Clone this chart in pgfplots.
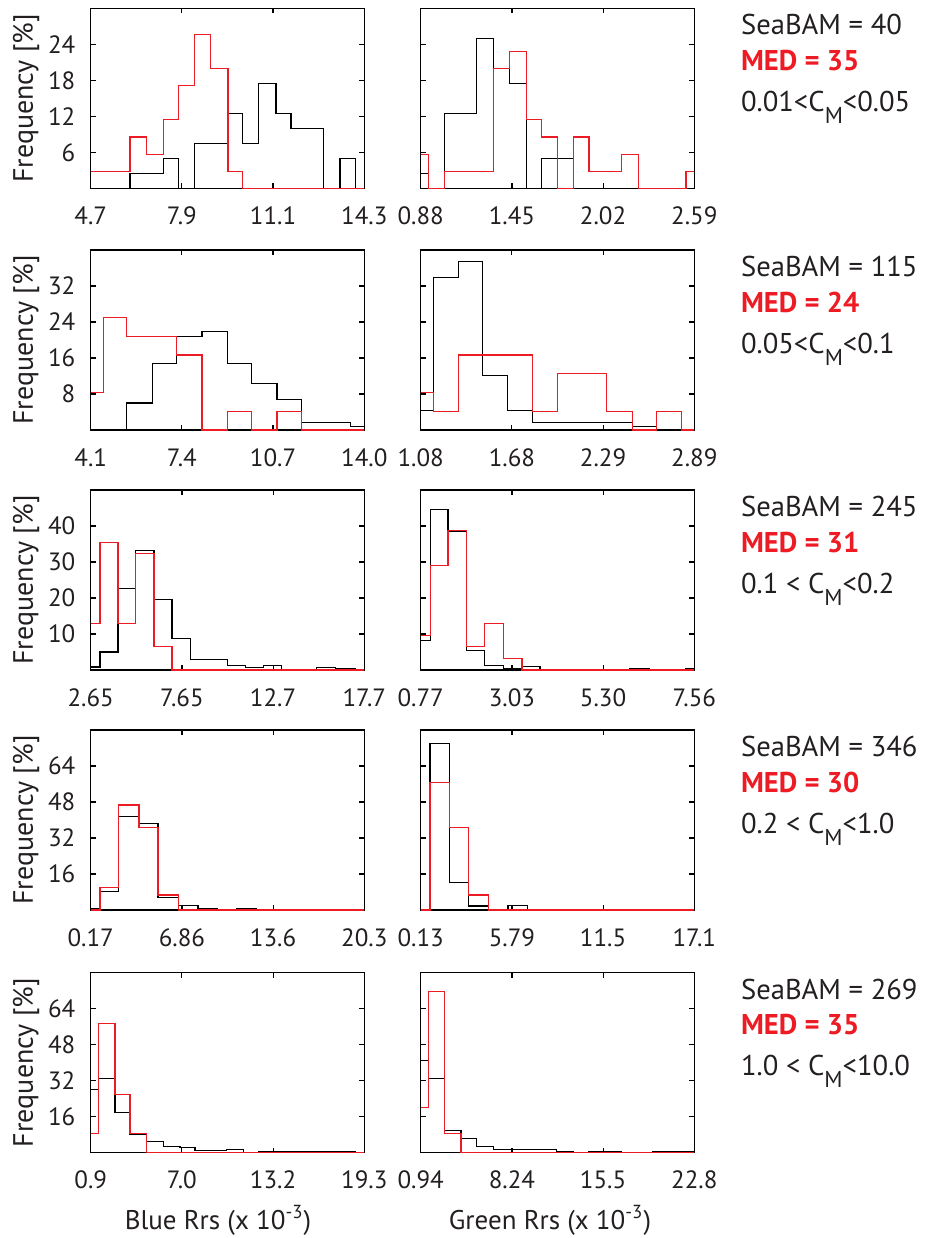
\documentclass[border=0pt]{standalone}
\usepackage{pgfplots}
\pgfplotsset{compat=1.18}
\usepackage{fontspec}
\setmainfont{PT Sans}
\definecolor{myred}{RGB}{237,28,36}
\definecolor{txt}{RGB}{35,31,32}
\newcommand\tf{\fontsize{12.5}{15}\selectfont}
\newcommand\lf{\fontsize{13.5}{16}\selectfont}
\newcommand\rf{\fontsize{14.3}{17}\selectfont}
\newcommand\CM{C\raisebox{-6pt}{\fontsize{11.5}{11.5}\selectfont M}}
\pgfplotsset{
 hist/.style={scale only axis, width=136.8pt, height=90pt, anchor=north west, ymin=0, clip=false,
  axis line style={line width=0.7pt, black}, tick align=inside, xtick pos=both, ytick pos=both,
  major tick length=2.5pt, every tick/.style={black, line width=0.6pt},
  ticklabel style={font=\tf, text=txt}, xticklabel style={yshift=-5.8pt}, yticklabel style={xshift=-4.15pt},
  /pgf/number format/assume math mode=true},
 noy/.style={yticklabels={}},
 blk/.style={const plot, black, line width=0.55pt, mark=none},
 rd/.style={const plot, myred, line width=0.55pt, mark=none},
 r1/.style={ymax=30, ytick={6,12,18,24}},
 r2/.style={ymax=40, ytick={8,16,24,32}},
 r3/.style={ymax=50, ytick={10,20,30,40}},
 r4/.style={ymax=80, ytick={16,32,48,64}},
}
\begin{document}
\begin{tikzpicture}
\path[use as bounding box] (0,0) rectangle (463.5pt,619pt);
% ---------------- Row 1
\begin{axis}[hist, r1, at={(45.35pt,614.8pt)}, xmin=4.7, xmax=14.3, xtick={4.7,7.9,11.1,14.3}, xticklabels={4.7,7.9,11.1,14.3}]
\addplot[blk] coordinates {(4.7,0) (6.08,2.5) (7.249,5) (7.775,0) (8.337,7.5) (9.517,12.5) (10.032,7.5) (10.582,17.5) (11.201,12.5) (11.728,10) (12.862,0) (13.447,5) (13.984,0) (14.3,0)};
\addplot[rd] coordinates {(4.7,2.86) (6.08,8.57) (6.664,5.71) (7.249,11.43) (7.775,17.14) (8.337,25.71) (8.909,20) (9.517,2.86) (10.032,0) (14.3,0)};
\end{axis}
\begin{axis}[hist, r1, noy, at={(210.35pt,614.8pt)}, xmin=0.88, xmax=2.59, xtick={0.88,1.45,2.02,2.59}, xticklabels={0.88,1.45,2.02,2.59}]
\addplot[blk] coordinates {(0.88,2.5) (0.93,0) (1.03,12.5) (1.23,25) (1.336,20) (1.436,17.5) (1.54,0) (1.634,5) (1.836,0) (2.59,0)};
\addplot[rd] coordinates {(0.88,5.71) (0.93,0) (1.03,2.86) (1.336,20) (1.436,22.86) (1.54,11.43) (1.634,8.57) (1.736,0) (1.836,8.57) (1.932,2.86) (2.136,5.71) (2.24,0) (2.538,2.86) (2.59,2.86)};
\end{axis}
% ---------------- Row 2
\begin{axis}[hist, r2, at={(45.35pt,494pt)}, xmin=4.1, xmax=14.0, xtick={4.1,7.4,10.7,14.0}, xticklabels={4.1,7.4,10.7,14.0}]
\addplot[blk] coordinates {(4.1,0) (5.402,6.0) (6.343,14.8) (7.211,20.7) (8.127,21.85) (9.056,14.8) (9.912,10.4) (10.84,6.7) (11.721,1.7) (13.505,0.74) (14.0,0.74)};
\addplot[rd] coordinates {(4.1,8.33) (4.558,25.0) (5.402,20.83) (7.211,16.67) (8.127,0) (9.056,4.17) (9.912,0) (10.84,4.17) (11.721,0) (14.0,0)};
\end{axis}
\begin{axis}[hist, r2, noy, at={(210.35pt,494pt)}, xmin=1.08, xmax=2.89, xtick={1.08,1.6833,2.2867,2.89}, xticklabels={1.08,1.68,2.29,2.89}]
\addplot[blk] coordinates {(1.08,4.37) (1.164,33.8) (1.331,37.5) (1.49,12.1) (1.653,4.37) (1.8185,1.7) (2.484,0.8) (2.641,0) (2.89,0)};
\addplot[rd] coordinates {(1.08,8.33) (1.164,4.17) (1.331,16.67) (1.8185,4.17) (1.984,12.5) (2.312,4.17) (2.484,0) (2.641,4.17) (2.808,0) (2.89,0)};
\end{axis}
% ---------------- Row 3
\begin{axis}[hist, r3, at={(45.35pt,374pt)}, xmin=2.65, xmax=17.7, xtick={2.65,7.6667,12.6833,17.7}, xticklabels={2.65,7.65,12.7,17.7}]
\addplot[blk] coordinates {(2.65,0.83) (3.163,5.0) (4.153,22.6) (5.125,33.3) (6.133,19.5) (7.123,8.8) (8.131,3.0) (10.184,1.2) (11.174,0.74) (12.164,1.2) (13.154,0) (15.078,0.8) (16.123,0.4) (17.187,0) (17.7,0)};
\addplot[rd] coordinates {(2.65,12.9) (3.163,35.48) (4.153,12.9) (5.125,32.26) (6.133,6.45) (7.123,0) (17.7,0)};
\end{axis}
\begin{axis}[hist, r3, noy, at={(210.35pt,374pt)}, xmin=0.77, xmax=7.56, xtick={0.77,3.0333,5.2967,7.56}, xticklabels={0.77,3.03,5.30,7.56}]
\addplot[blk] coordinates {(0.77,8.3) (1.002,44.6) (1.448,38.5) (1.903,5.3) (2.35,1.3) (2.829,0.3) (3.284,0.9) (3.731,0) (5.964,0.4) (6.444,0) (7.353,0.3) (7.56,0.3)};
\addplot[rd] coordinates {(0.77,9.68) (1.002,29.03) (1.448,38.71) (1.903,6.45) (2.35,12.9) (2.829,3.23) (3.284,0) (7.56,0)};
\end{axis}
% ---------------- Row 4
\begin{axis}[hist, r4, at={(45.35pt,254pt)}, xmin=0.17, xmax=20.3, xtick={0.17,6.88,13.59,20.3}, xticklabels={0.17,6.86,13.6,20.3}]
\addplot[blk] coordinates {(0.17,0.6) (0.857,8.1) (2.23,41.5) (3.725,38.5) (5.123,5.5) (6.618,2.1) (8.065,0.6) (9.512,0) (10.909,0.6) (12.356,0) (20.3,0)};
\addplot[rd] coordinates {(0.17,0) (0.857,10) (2.23,46.67) (3.725,36.67) (5.123,6.67) (6.618,0) (20.3,0)};
\end{axis}
\begin{axis}[hist, r4, noy, at={(210.35pt,254pt)}, xmin=0.13, xmax=17.1, xtick={0.13,5.7867,11.4433,17.1}, xticklabels={0.13,5.79,11.5,17.1}]
\addplot[blk] coordinates {(0.13,0) (0.709,73.9) (1.908,12.4) (3.107,1.8) (4.347,0.4) (5.546,2.1) (6.744,0.4) (7.964,0) (17.1,0)};
\addplot[rd] coordinates {(0.13,0) (0.709,56.67) (1.908,36.67) (3.107,6.67) (4.347,0) (17.1,0)};
\end{axis}
% ---------------- Row 5
\begin{axis}[hist, r4, at={(45.35pt,132.75pt)}, xmin=0.9, xmax=19.3, xtick={0.9,7.0333,13.1667,19.3}, xticklabels={0.9,7.0,13.2,19.3}]
\addplot[blk] coordinates {(0.9,28.1) (1.438,32.7) (2.536,17.9) (3.545,7.9) (4.665,4.7) (5.786,2.8) (6.906,2.1) (7.915,0.7) (10.044,1.3) (11.165,0) (12.173,0.5) (18.673,0) (19.3,0)};
\addplot[rd] coordinates {(0.9,8.57) (1.438,57.14) (2.536,25.71) (3.545,8.57) (4.665,0) (19.3,0)};
\end{axis}
\begin{axis}[hist, r4, noy, at={(210.35pt,132.75pt)}, xmin=0.94, xmax=22.8, xtick={0.94,8.2267,15.5133,22.8}, xticklabels={0.94,8.24,15.5,22.8}]
\addplot[blk] coordinates {(0.94,40.9) (1.579,32.7) (2.857,9.9) (4.162,6.1) (5.413,2.8) (6.744,1.5) (11.803,0.5) (13.135,0) (14.333,0.5) (16.995,0) (19.472,0.5) (22.8,0.5)};
\addplot[rd] coordinates {(0.94,20) (1.579,71.43) (2.857,8.57) (4.162,0) (22.8,0)};
\end{axis}
% ---------------- Labels
\foreach \yt in {614.8,494,374,254,132.75} {
  \node[rotate=90, anchor=base, font=\fontsize{14}{16}\selectfont, text=txt] at (16.5pt,\yt pt-45pt) {Frequency [\%]};
}
\foreach \yt/\n/\m/\c in {614.8/40/35/{0.01<\CM<0.05}, 494/115/24/{0.05<\CM<0.1}, 374/245/31/{0.1 < \CM<0.2}, 254/346/30/{0.2 < \CM<1.0}, 132.75/269/35/{1.0 < \CM<10.0}} {
  \node[anchor=base west, font=\rf, text=txt, inner sep=0pt] at (370.35pt,\yt pt-13.3pt) {SeaBAM = \n};
  \node[anchor=base west, font=\rf\bfseries, text=myred, inner sep=0pt] at (370.35pt,\yt pt-31.15pt) {MED = \m};
  \node[anchor=base west, font=\rf, text=txt, inner sep=0pt] at (370.35pt,\yt pt-51.65pt) {\c};
}
\node[anchor=base, font=\lf, text=txt] at (109pt,4.5pt) {Blue Rrs (x 10\textsuperscript{-3})};
\node[anchor=base, font=\lf, text=txt] at (275pt,4.5pt) {Green Rrs (x 10\textsuperscript{-3})};
\end{tikzpicture}
\end{document}
